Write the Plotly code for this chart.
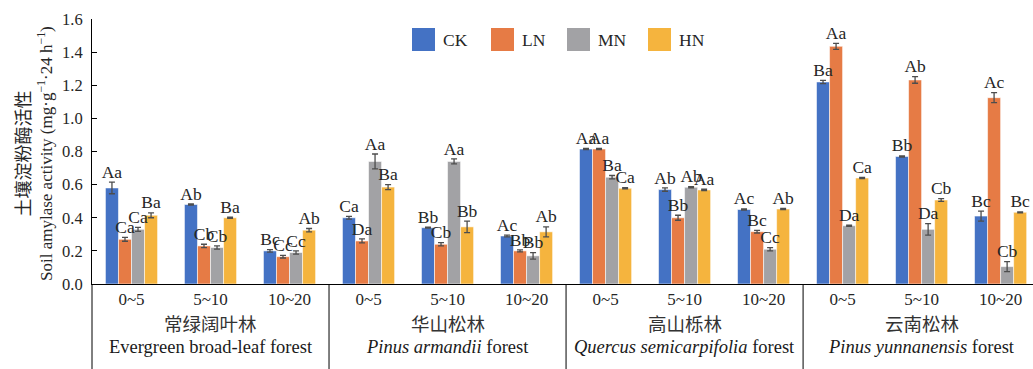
import plotly.graph_objects as go

# Soil depth classes (cm) and forest types
depths = ["0~5", "5~10", "10~20"]
forests_cn = ["常绿阔叶林", "华山松林", "高山栎林", "云南松林"]
forests_en = [
    "Evergreen broad-leaf forest",
    "<i>Pinus armandii</i> forest",
    "<i>Quercus semicarpifolia</i> forest",
    "<i>Pinus yunnanensis</i> forest",
]

# Treatments
series = ["CK", "LN", "MN", "HN"]
colors = ["#4472C4", "#E67B45", "#A2A2A5", "#F5B43E"]

# Soil amylase activity, 12 values per treatment (4 forests x 3 depths)
ck = [0.58, 0.48, 0.20, 0.40, 0.34, 0.29, 0.815, 0.57, 0.45, 1.22, 0.77, 0.41]
ln = [0.27, 0.23, 0.165, 0.26, 0.24, 0.20, 0.815, 0.40, 0.316, 1.435, 1.232, 1.125]
mn = [0.33, 0.22, 0.19, 0.74, 0.74, 0.17, 0.645, 0.584, 0.21, 0.352, 0.33, 0.105]
hn = [0.415, 0.40, 0.325, 0.585, 0.345, 0.315, 0.578, 0.568, 0.453, 0.64, 0.507, 0.433]

# Standard errors
ck_err = [0.035, 0.003, 0.008, 0.008, 0.003, 0.005, 0.004, 0.01, 0.004, 0.01, 0.004, 0.03]
ln_err = [0.012, 0.01, 0.008, 0.012, 0.01, 0.006, 0.004, 0.015, 0.008, 0.018, 0.02, 0.03]
mn_err = [0.012, 0.01, 0.01, 0.045, 0.015, 0.02, 0.01, 0.004, 0.01, 0.004, 0.035, 0.03]
hn_err = [0.015, 0.003, 0.01, 0.015, 0.035, 0.03, 0.003, 0.004, 0.004, 0.003, 0.008, 0.003]

# Significance letters
ck_lab = ["Aa", "Ab", "Bc", "Ca", "Bb", "Ac", "Aa", "Ab", "Ac", "Ba", "Bb", "Bc"]
ln_lab = ["Ca", "Cb", "Cc", "Da", "Cb", "Bb", "Aa", "Bb", "Bc", "Aa", "Ab", "Ac"]
mn_lab = ["Ca", "Cb", "Cc", "Aa", "Aa", "Bb", "Ba", "Ab", "Cc", "Da", "Da", "Cb"]
hn_lab = ["Ba", "Ba", "Ab", "Ba", "Bb", "Ab", "Ca", "Aa", "Ab", "Ca", "Cb", "Bc"]

values = [ck, ln, mn, hn]
errors = [ck_err, ln_err, mn_err, hn_err]
letters = [ck_lab, ln_lab, mn_lab, hn_lab]

SERIF = "Liberation Serif"
CJK = "Noto Sans CJK SC"
W, H = 1033, 369
ML, MR, MT, MB = 92, 0, 19, 85
PW, PH = W - ML - MR, H - MT - MB

positions = list(range(len(depths) * len(forests_cn)))
BARGAP = 0.34
bar_w = (1 - BARGAP) / len(series)

fig = go.Figure()

for i, name in enumerate(series):
    fig.add_trace(go.Bar(
        x=positions, y=values[i], name=name,
        marker=dict(color=colors[i], line=dict(color="rgba(255,255,255,0.55)", width=1)),
        error_y=dict(type="data", array=errors[i], color="#4d4d4d", thickness=1.3, width=3),
        showlegend=False, hoverinfo="x+y",
    ))

# letters above each bar's error bar
for i in range(len(series)):
    off = (i - (len(series) - 1) / 2) * bar_w
    fig.add_trace(go.Scatter(
        x=[p + off for p in positions],
        y=[v + e for v, e in zip(values[i], errors[i])],
        text=letters[i], mode="text", textposition="top center",
        textfont=dict(family=SERIF, size=17.5, color="#262626"),
        cliponaxis=False, showlegend=False, hoverinfo="skip",
    ))


def px_x(px):
    return (px - ML) / PW


def px_y(py):
    return (H - MB - py) / PH


shapes = []
annotations = []

# axis line continued down through the category band, and group separators
bottom = px_y(H)
shapes.append(dict(type="line", xref="paper", yref="paper", x0=0, x1=0, y0=0, y1=bottom,
                   line=dict(color="black", width=1)))
n_dep = len(depths)
for g in range(1, len(forests_cn)):
    xs = g * n_dep - 0.5
    shapes.append(dict(type="line", xref="x", yref="paper", x0=xs, x1=xs, y0=0, y1=bottom,
                       line=dict(color="black", width=1)))

# forest group names
for g in range(len(forests_cn)):
    xc = g * n_dep + (n_dep - 1) / 2
    annotations.append(dict(x=xc, y=px_y(323), xref="x", yref="paper", text=forests_cn[g],
                            showarrow=False, font=dict(family=CJK, size=18.5, color="#333"),
                            xanchor="center", yanchor="middle"))
    annotations.append(dict(x=xc, y=px_y(347), xref="x", yref="paper", text=forests_en[g],
                            showarrow=False, font=dict(family=SERIF, size=18.5, color="#1a1a1a"),
                            xanchor="center", yanchor="middle"))

# legend: coloured squares with treatment names
leg_box_x = [412, 491, 567, 648]
for i, name in enumerate(series):
    x0 = leg_box_x[i]
    shapes.append(dict(type="rect", xref="paper", yref="paper",
                       x0=px_x(x0), x1=px_x(x0 + 23), y0=px_y(51), y1=px_y(28),
                       fillcolor=colors[i], line=dict(width=0)))
    annotations.append(dict(x=px_x(x0 + 29), y=px_y(40), xref="paper", yref="paper", text=name,
                            showarrow=False, font=dict(family=SERIF, size=17.5, color="#262626"),
                            xanchor="left", yanchor="middle"))

# y-axis title
annotations.append(dict(
    x=px_x(32), y=px_y(154), xref="paper", yref="paper", textangle=-90,
    text="<span style='font-family:Noto Sans CJK SC;font-size:18px'>土壤淀粉酶活性</span><br>"
         "Soil amylase activity (mg·g<sup>−1</sup>·24 h<sup>−1</sup>)",
    showarrow=False, font=dict(family=SERIF, size=17, color="#262626"),
    xanchor="center", yanchor="middle"))

fig.update_layout(
    width=W, height=H,
    margin=dict(l=ML, r=MR, t=MT, b=MB),
    plot_bgcolor="white", paper_bgcolor="white",
    barmode="group", bargap=BARGAP, bargroupgap=0,
    shapes=shapes, annotations=annotations,
    showlegend=False,
    xaxis=dict(range=[-0.5, 11.41], tickmode="array", tickvals=positions,
               ticktext=depths * len(forests_cn), showline=True, linecolor="black", linewidth=1,
               ticks="", showgrid=False, zeroline=False,
               tickfont=dict(family=SERIF, size=17, color="#262626")),
    yaxis=dict(range=[0, 1.6], dtick=0.2, tickformat=".1f", showline=True, linecolor="black",
               linewidth=1, ticks="inside", ticklen=5, tickcolor="black", showgrid=False,
               zeroline=False, ticklabelstandoff=5,
               tickfont=dict(family=SERIF, size=16.5, color="#262626")),
)

fig.write_html("out.html")
